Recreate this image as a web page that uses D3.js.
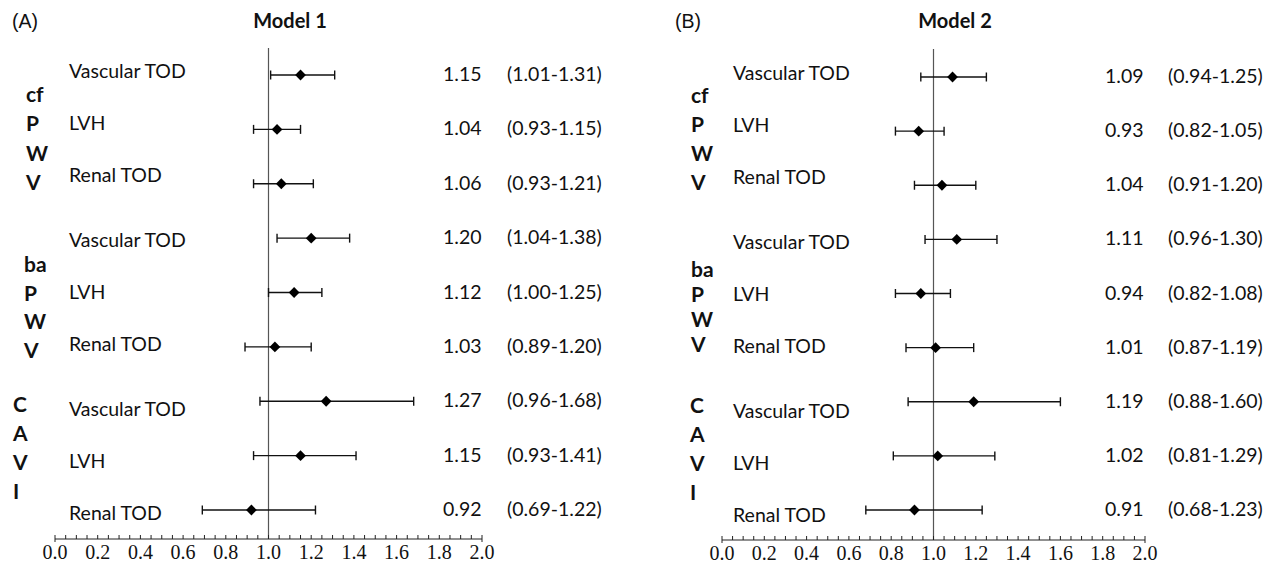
<!DOCTYPE html>
<html>
<head>
<meta charset="utf-8">
<script src="https://cdn.jsdelivr.net/npm/d3@7"></script>
<style>
  body { margin: 0; background: #fff; }
  .row-label, .value { font-family: Lato, "Open Sans", sans-serif; font-size: 19.5px; fill: #111; }
  .group-label { font-family: Lato, sans-serif; font-weight: bold; font-size: 21px; fill: #111; }
  .title { font-family: Lato, sans-serif; font-weight: bold; font-size: 20px; fill: #111; }
  .panel-tag { font-family: "Liberation Sans", Arial, sans-serif; font-size: 19.5px; fill: #111; }
  .axis text { font-family: "Liberation Serif", "Times New Roman", serif; font-size: 20px; fill: #111; }
</style>
</head>
<body>
<div class="forest"></div>
<script>
// rows, top to bottom
const outcomes = ["Vascular TOD", "LVH", "Renal TOD",
                  "Vascular TOD", "LVH", "Renal TOD",
                  "Vascular TOD", "LVH", "Renal TOD"];
const groups = [["cf", "P", "W", "V"], ["ba", "P", "W", "V"], ["C", "A", "V", "I"]];
const xTicks = [0.0, 0.2, 0.4, 0.6, 0.8, 1.0, 1.2, 1.4, 1.6, 1.8, 2.0];

// Model 1 odds ratios and 95% CI
const m1_or = [1.15, 1.04, 1.06, 1.20, 1.12, 1.03, 1.27, 1.15, 0.92];
const m1_lo = [1.01, 0.93, 0.93, 1.04, 1.00, 0.89, 0.96, 0.93, 0.69];
const m1_hi = [1.31, 1.15, 1.21, 1.38, 1.25, 1.20, 1.68, 1.41, 1.22];

// Model 2 odds ratios and 95% CI
const m2_or = [1.09, 0.93, 1.04, 1.11, 0.94, 1.01, 1.19, 1.02, 0.91];
const m2_lo = [0.94, 0.82, 0.91, 0.96, 0.82, 0.87, 0.88, 0.81, 0.68];
const m2_hi = [1.25, 1.05, 1.20, 1.30, 1.08, 1.19, 1.60, 1.29, 1.23];

const width = 1277;
const height = 570;

const svg = d3.select('.forest')
    .append('svg')
    .attr('width', width)
    .attr('height', height);

function fmt(v){
    return v.toFixed(2);
}

function draw_panel(opt){
    const g = svg.append("g");

    const x = d3.scaleLinear().domain([0, 2]).range([opt.x0, opt.x1]);
    const y = d3.scalePoint().domain(d3.range(outcomes.length)).range([opt.rowTop, opt.rowBottom]);

    g.append("text").attr("class", "panel-tag")
        .attr("x", opt.tagX).attr("y", 28)
        .text(opt.tag);

    g.append("text").attr("class", "title")
        .attr("x", opt.titleX).attr("y", 28)
        .attr("text-anchor", "middle")
        .text(opt.title);

    // reference line at 1.0
    g.append("line")
        .attr("x1", x(1)).attr("x2", x(1))
        .attr("y1", opt.lineTop).attr("y2", opt.axisY)
        .attr("stroke", "#555")
        .attr("stroke-width", 1.2);

    // axis with minor ticks every 0.05
    const axis = g.append("g").attr("class", "axis")
        .attr("transform", "translate(0," + opt.axisY + ")");
    axis.append("line")
        .attr("x1", x(0)).attr("x2", x(2))
        .attr("stroke", "#222");
    axis.selectAll(".minor")
        .data(d3.range(0, 41))
        .enter()
        .append("line")
        .attr("x1", d => x(d * 0.05))
        .attr("x2", d => x(d * 0.05))
        .attr("y1", d => (d == 0 || d == 40) ? 3 : 0)
        .attr("y2", -4)
        .attr("stroke", "#222");
    axis.selectAll("text")
        .data(xTicks)
        .enter()
        .append("text")
        .attr("x", d => x(d))
        .attr("y", 20)
        .attr("text-anchor", "middle")
        .text(d => d.toFixed(1));

    // outcome labels
    g.selectAll(".row-label")
        .data(outcomes)
        .enter()
        .append("text")
        .attr("class", "row-label")
        .attr("x", opt.labelX)
        .attr("y", (d, i) => opt.labelTop + Math.floor(i / 3) * 169 + (i % 3) * 52)
        .text(d => d);

    // vertical group labels
    groups.forEach(function(letters, gi){
        g.selectAll(".group" + gi)
            .data(letters)
            .enter()
            .append("text")
            .attr("class", "group-label")
            .attr("x", opt.groupX[gi])
            .attr("y", (d, i) => opt.groupTop[gi] + i * opt.groupStep[gi])
            .text(d => d);
    });

    const rows = d3.range(outcomes.length);

    // CI bars
    g.selectAll(".ci")
        .data(rows)
        .enter()
        .append("line")
        .attr("x1", i => x(opt.lo[i]))
        .attr("x2", i => x(opt.hi[i]))
        .attr("y1", i => y(i))
        .attr("y2", i => y(i))
        .attr("stroke", "#111")
        .attr("stroke-width", 1.4);

    g.selectAll(".cap-lo")
        .data(rows)
        .enter()
        .append("line")
        .attr("x1", i => x(opt.lo[i]))
        .attr("x2", i => x(opt.lo[i]))
        .attr("y1", i => y(i) - 4.5)
        .attr("y2", i => y(i) + 4.5)
        .attr("stroke", "#111")
        .attr("stroke-width", 1.4);

    g.selectAll(".cap-hi")
        .data(rows)
        .enter()
        .append("line")
        .attr("x1", i => x(opt.hi[i]))
        .attr("x2", i => x(opt.hi[i]))
        .attr("y1", i => y(i) - 4.5)
        .attr("y2", i => y(i) + 4.5)
        .attr("stroke", "#111")
        .attr("stroke-width", 1.4);

    // point estimates
    g.selectAll(".point")
        .data(rows)
        .enter()
        .append("path")
        .attr("d", d3.symbol().type(d3.symbolSquare).size(58))
        .attr("transform", i => "translate(" + x(opt.or[i]) + "," + y(i) + ") rotate(45)")
        .attr("fill", "#000");

    // value columns
    g.selectAll(".value-or")
        .data(rows)
        .enter()
        .append("text")
        .attr("class", "value")
        .attr("x", opt.orX)
        .attr("y", i => y(i) + 6)
        .text(i => fmt(opt.or[i]));

    g.selectAll(".value-ci")
        .data(rows)
        .enter()
        .append("text")
        .attr("class", "value")
        .attr("x", opt.ciX)
        .attr("y", i => y(i) + 6)
        .text(i => "(" + fmt(opt.lo[i]) + "-" + fmt(opt.hi[i]) + ")");
}

draw_panel({
    tag: "(A)", tagX: 12, title: "Model 1", titleX: 290,
    x0: 55, x1: 482, axisY: 539, lineTop: 48,
    rowTop: 75, rowBottom: 510,
    labelX: 69, labelTop: 78,
    groupX: [26, 24, 13], groupTop: [102, 272, 412], groupStep: [29.3, 28.5, 29],
    orX: 443, ciX: 507,
    or: m1_or, lo: m1_lo, hi: m1_hi
});

draw_panel({
    tag: "(B)", tagX: 675, title: "Model 2", titleX: 955,
    x0: 722, x1: 1145, axisY: 540, lineTop: 49,
    rowTop: 77, rowBottom: 510,
    labelX: 733, labelTop: 80,
    groupX: [691, 691, 690], groupTop: [103, 277, 413], groupStep: [29, 25, 29],
    orX: 1105, ciX: 1168,
    or: m2_or, lo: m2_lo, hi: m2_hi
});
</script>
</body>
</html>
